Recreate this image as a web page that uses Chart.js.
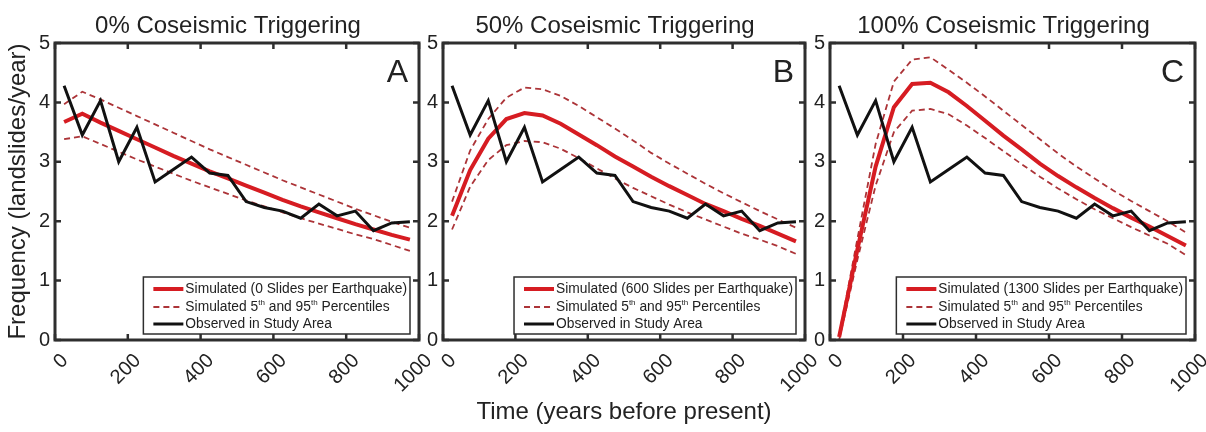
<!DOCTYPE html>
<html>
<head>
<meta charset="utf-8">
<script src="https://cdn.jsdelivr.net/npm/chart.js@4.4.1/dist/chart.umd.min.js"></script>
<style>
html,body{margin:0;padding:0;background:#fff;}
#wrap{position:relative;width:1206px;height:432px;overflow:hidden;}
canvas{position:absolute;top:0;}
</style>
</head>
<body>
<div id="wrap">
<canvas id="panelA" width="430" height="432" style="left:0px"></canvas>
<canvas id="panelB" width="410" height="432" style="left:410px"></canvas>
<canvas id="panelC" width="406" height="432" style="left:800px"></canvas>
</div>
<script>
// years before present (bin centres)
const years = [25,75,125,175,225,275,325,375,425,475,525,575,625,675,725,775,825,875,925,975];

// observed landslide frequency (same in all panels)
const observed = [4.28,3.45,4.03,3.00,3.58,2.66,2.87,3.08,2.81,2.77,2.33,2.23,2.17,2.05,2.29,2.09,2.17,1.84,1.97,1.99];

// panel A - 0% coseismic
const simA  = [3.67,3.81,3.66,3.52,3.38,3.24,3.10,2.97,2.84,2.72,2.60,2.48,2.36,2.25,2.15,2.05,1.95,1.86,1.77,1.69];
const highA = [3.97,4.18,4.05,3.91,3.77,3.63,3.49,3.35,3.21,3.08,2.95,2.82,2.69,2.57,2.45,2.33,2.21,2.10,1.99,1.89];
const lowA  = [3.38,3.43,3.30,3.17,3.04,2.92,2.80,2.68,2.57,2.46,2.35,2.25,2.15,2.05,1.96,1.87,1.78,1.70,1.60,1.50];

// panel B - 50% coseismic
const simB  = [2.09,2.86,3.39,3.72,3.82,3.78,3.64,3.46,3.28,3.09,2.92,2.75,2.59,2.44,2.29,2.17,2.04,1.92,1.79,1.66];
const highB = [2.33,3.19,3.72,4.08,4.25,4.22,4.11,3.94,3.75,3.56,3.36,3.15,2.97,2.80,2.63,2.47,2.32,2.17,2.03,1.89];
const lowB  = [1.86,2.58,3.03,3.28,3.35,3.33,3.22,3.06,2.89,2.72,2.56,2.42,2.28,2.15,2.03,1.91,1.79,1.69,1.58,1.45];

// panel C - 100% coseismic
const simC  = [0.05,1.52,2.92,3.92,4.31,4.33,4.17,3.94,3.69,3.44,3.21,2.97,2.76,2.57,2.39,2.22,2.06,1.91,1.75,1.59];
const highC = [0.08,1.70,3.30,4.35,4.72,4.76,4.55,4.33,4.10,3.86,3.62,3.38,3.14,2.92,2.72,2.52,2.34,2.17,2.00,1.81];
const lowC  = [0.00,1.35,2.60,3.50,3.86,3.89,3.80,3.61,3.40,3.18,2.96,2.75,2.55,2.37,2.20,2.05,1.90,1.76,1.62,1.43];

const xTicks = [0,200,400,600,800,1000];
const yTicks = [0,1,2,3,4,5];
const titles = ["0% Coseismic Triggering","50% Coseismic Triggering","100% Coseismic Triggering"];
const letters = ["A","B","C"];
const slides = [0,600,1300];

const RED = 'rgb(214,28,34)';
const DASH = 'rgb(172,52,56)';
const INK = '#222';
const FRAME = '#2e2e2e';

function pts(arr){ return years.map((x,i)=>({x:x, y:arr[i]})); }

// frame, inward ticks, panel title, letter and legend
const panelDeco = {
  id: 'panelDeco',
  afterDatasetsDraw(chart, args, o) {
    const ctx = chart.ctx, a = chart.chartArea;
    const xs = chart.scales.x, ys = chart.scales.y;
    ctx.save();
    ctx.strokeStyle = FRAME;
    ctx.lineWidth = 3;
    ctx.strokeRect(a.left, a.top, a.width, a.height);
    ctx.lineWidth = 2.5;
    ctx.beginPath();
    xTicks.forEach(v => {
      const p = xs.getPixelForValue(v);
      ctx.moveTo(p, a.bottom); ctx.lineTo(p, a.bottom - 6);
      ctx.moveTo(p, a.top); ctx.lineTo(p, a.top + 6);
    });
    yTicks.forEach(v => {
      const p = ys.getPixelForValue(v);
      ctx.moveTo(a.left, p); ctx.lineTo(a.left + 6, p);
      ctx.moveTo(a.right, p); ctx.lineTo(a.right - 6, p);
    });
    ctx.stroke();

    ctx.fillStyle = INK;
    ctx.font = '24px Arial';
    ctx.textAlign = 'center';
    ctx.textBaseline = 'alphabetic';
    ctx.fillText(o.title, (a.left + a.right) / 2 - 9, 33);
    ctx.font = '32px Arial';
    ctx.textAlign = 'right';
    ctx.fillText(o.letter, a.right - 11, 82);

    // legend
    const ds = chart.data.datasets;
    const rows = [
      {d: ds[1], parts: [['Simulated (' + o.slides + ' Slides per Earthquake)', 0]]},
      {d: ds[2], parts: [['Simulated 5', 0], ['th', 1], [' and 95', 0], ['th', 1], [' Percentiles', 0]]},
      {d: ds[0], parts: [['Observed in Study Area', 0]]}
    ];
    const fMain = '13.8px Arial', fSup = '8px Arial';
    const widthOf = parts => parts.reduce((w, p) => { ctx.font = p[1] ? fSup : fMain; return w + ctx.measureText(p[0]).width; }, 0);
    const textW = Math.max(...rows.map(r => widthOf(r.parts)));
    const boxW = 42 + textW + 3, boxH = 57;
    const bx = a.right - 9 - boxW, by = a.bottom - 6 - boxH;
    ctx.fillStyle = '#fff';
    ctx.fillRect(bx, by, boxW, boxH);
    ctx.strokeStyle = FRAME;
    ctx.lineWidth = 1.5;
    ctx.strokeRect(bx, by, boxW, boxH);
    const rowY = [by + 12, by + 30, by + 47];
    rows.forEach((r, i) => {
      ctx.beginPath();
      ctx.strokeStyle = r.d.borderColor;
      ctx.lineWidth = r.d.borderWidth;
      ctx.setLineDash(r.d.borderDash || []);
      ctx.moveTo(bx + 10, rowY[i]); ctx.lineTo(bx + 40, rowY[i]);
      ctx.stroke();
      ctx.setLineDash([]);
      let tx = bx + 42;
      ctx.fillStyle = INK;
      ctx.textAlign = 'left';
      ctx.textBaseline = 'middle';
      r.parts.forEach(p => {
        ctx.font = p[1] ? fSup : fMain;
        ctx.fillText(p[0], tx, rowY[i] + (p[1] ? -4 : 0));
        tx += ctx.measureText(p[0]).width;
      });
    });
    ctx.restore();
  }
};

function makePanel(id, k, sim, high, low, yW, padR, yTitle, xTitle) {
  return new Chart(document.getElementById(id), {
    type: 'line',
    data: {
      datasets: [
        {label: 'Observed in Study Area', data: pts(observed), borderColor: '#111', borderWidth: 3, pointRadius: 0, tension: 0},
        {label: 'Simulated', data: pts(sim), borderColor: RED, borderWidth: 4, pointRadius: 0, tension: 0},
        {label: '95th', data: pts(high), borderColor: DASH, borderWidth: 1.8, borderDash: [6, 4], pointRadius: 0, tension: 0},
        {label: '5th', data: pts(low), borderColor: DASH, borderWidth: 1.8, borderDash: [6, 4], pointRadius: 0, tension: 0}
      ]
    },
    options: {
      responsive: false,
      animation: false,
      events: [],
      layout: {padding: {left: 0, top: 43, right: padR, bottom: 0}},
      plugins: {
        legend: {display: false},
        tooltip: {enabled: false},
        panelDeco: {title: titles[k], letter: letters[k], slides: slides[k]}
      },
      scales: {
        x: {
          type: 'linear', min: 0, max: 1000,
          grid: {display: false, drawTicks: false},
          border: {display: false},
          afterBuildTicks: s => { s.ticks = xTicks.map(v => ({value: v})); },
          afterFit: s => { s.height = 92; s.paddingLeft = 0; s.paddingRight = 0; },
          ticks: {minRotation: 45, maxRotation: 45, padding: 9, labelOffset: 10, color: INK,
                  font: {family: 'Arial', size: 20}, callback: v => String(v)},
          title: {display: !!xTitle, text: xTitle || '', color: INK, font: {family: 'Arial', size: 24}, padding: {top: 5, bottom: 5}}
        },
        y: {
          min: 0, max: 5,
          grid: {display: false, drawTicks: false},
          border: {display: false},
          afterBuildTicks: s => { s.ticks = yTicks.map(v => ({value: v})); },
          afterFit: s => { s.width = yW; s.paddingTop = 0; s.paddingBottom = 0; },
          ticks: {padding: 5, color: INK, font: {family: 'Arial', size: 20}, callback: v => String(v)},
          title: {display: !!yTitle, text: yTitle || '', color: INK, font: {family: 'Arial', size: 24}, padding: {top: 4, bottom: 4}}
        }
      }
    },
    plugins: [panelDeco]
  });
}

makePanel('panelA', 0, simA, highA, lowA, 55, 11, 'Frequency (landslides/year)', null);
makePanel('panelB', 1, simB, highB, lowB, 33, 15, null, 'Time (years before present)');
makePanel('panelC', 2, simC, highC, lowC, 30, 11, null, null);
</script>
</body>
</html>
